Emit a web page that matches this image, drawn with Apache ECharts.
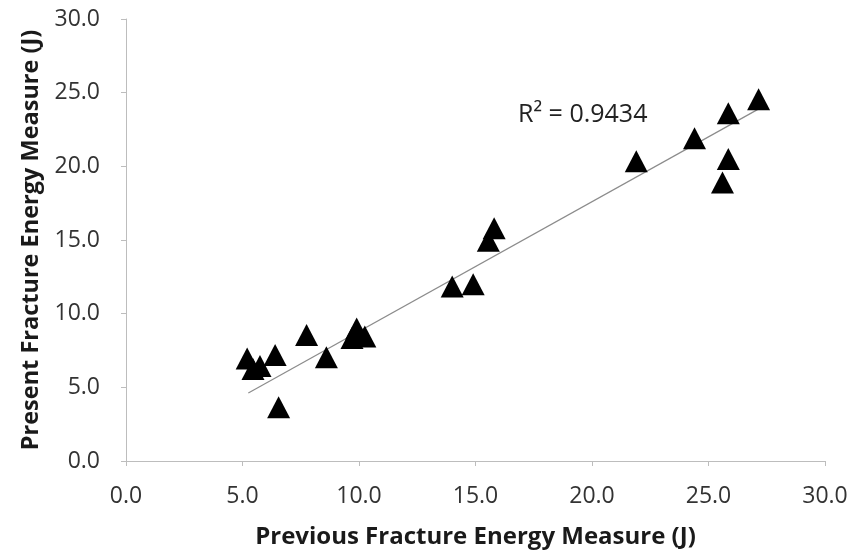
<!DOCTYPE html>
<html>
<head>
<meta charset="utf-8">
<script src="https://cdn.jsdelivr.net/npm/echarts@6/dist/echarts.min.js"></script>
<style>
  html, body { margin: 0; padding: 0; background: #fff; }
  #chart { width: 858px; height: 557px; }
</style>
</head>
<body>
<div id="chart"></div>
<script>
// Fracture energy: previous vs present measurement (J)
const previousEnergy = [5.2, 5.45, 5.75, 6.4, 6.55, 7.75, 8.6, 9.7, 9.9, 10.25, 14.0, 14.9, 15.55, 15.8, 21.9, 24.4, 25.6, 25.85, 25.85, 27.15];
const presentEnergy  = [6.95, 6.25, 6.45, 7.2, 3.65, 8.55, 7.05, 8.35, 9.0, 8.45, 11.85, 12.0, 14.95, 15.8, 20.35, 21.9, 18.9, 20.5, 23.6, 24.55];
// Linear trendline end points (previous, present)
const trendPrevious = [5.25, 27.1];
const trendPresent  = [4.62, 23.85];
const rSquaredText = 'R\u00B2 = 0.9434';
const axisTicks = { min: 0, max: 30, interval: 5 };

const points = previousEnergy.map((x, i) => [x, presentEnergy[i]]);
const trend = trendPrevious.map((x, i) => [x, trendPresent[i]]);
const font = '"Open Sans", "Noto Sans", sans-serif';

const axisCommon = {
  type: 'value',
  min: axisTicks.min, max: axisTicks.max, interval: axisTicks.interval,
  axisLine: { show: true, lineStyle: { color: '#bdbdbd', width: 1 } },
  axisTick: { show: true, inside: false, length: 5, lineStyle: { color: '#bdbdbd' } },
  splitLine: { show: false },
  axisLabel: { color: '#333', fontFamily: font, fontSize: 23, formatter: v => v.toFixed(1) },
  nameLocation: 'middle',
  nameTextStyle: { color: '#1a1a1a', fontFamily: font, fontSize: 24, fontWeight: 'bold' }
};

const chart = echarts.init(document.getElementById('chart'), null, { renderer: 'canvas' });
chart.setOption({
  animation: false,
  backgroundColor: '#fff',
  grid: { left: 126, right: 33, top: 19, bottom: 96, containLabel: false, outerBoundsMode: 'none' },
  xAxis: Object.assign({}, axisCommon, {
    name: 'Previous Fracture Energy Measure (J)',
    nameGap: 64,
    axisLabel: Object.assign({}, axisCommon.axisLabel, { margin: 24 })
  }),
  yAxis: Object.assign({}, axisCommon, {
    name: 'Present Fracture Energy Measure (J)',
    nameGap: 82,
    nameTextStyle: Object.assign({}, axisCommon.nameTextStyle, { fontSize: 23.5 }),
    axisLabel: Object.assign({}, axisCommon.axisLabel, { margin: 26 })
  }),
  series: [
    {
      type: 'line',
      data: trend,
      symbol: 'none',
      silent: true,
      lineStyle: { color: '#8c8c8c', width: 1.2 },
      z: 1
    },
    {
      type: 'scatter',
      data: points,
      symbol: 'triangle',
      symbolSize: [23, 22],
      itemStyle: { color: '#000', opacity: 1 },
      z: 2
    }
  ],
  graphic: [{
    type: 'text',
    left: 518,
    top: 102,
    style: { text: rSquaredText, fill: '#222', font: '25px ' + font }
  }]
});
</script>
</body>
</html>
